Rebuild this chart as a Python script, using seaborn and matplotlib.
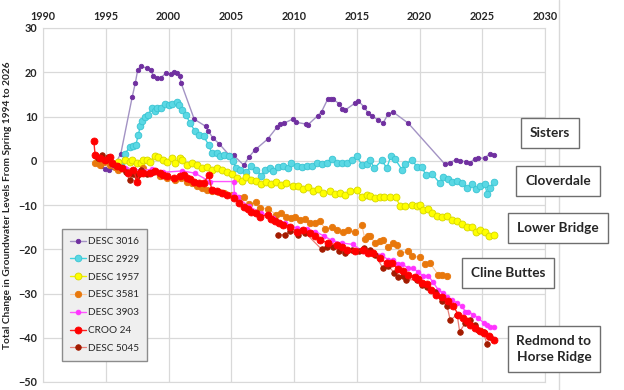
import matplotlib
matplotlib.use("Agg")
import matplotlib.pyplot as plt
import seaborn as sns
import pandas as pd
from matplotlib.lines import Line2D

# groundwater change (ft) since spring 1994 as (year, value)
desc3016 = [(1994.3, -0.3), (1994.6, -1.2), (1994.95, -1.9), (1995.25, -2.1), (1995.6, -1.5),
            (1996.2, 1.6), (1997.1, 14.3), (1997.35, 17.5), (1997.55, 20.6), (1997.8, 21.3),
            (1998.25, 21.0), (1998.6, 20.4), (1998.8, 19.2), (1999.1, 18.6), (1999.4, 18.8),
            (1999.8, 19.8), (2000.2, 19.5), (2000.4, 20.0), (2000.65, 19.9), (2000.9, 19.2),
            (2001.0, 17.6), (2002.05, 9.4), (2002.95, 7.8), (2003.15, 6.8), (2003.55, 5.1),
            (2004.05, 3.8), (2004.8, 1.4), (2005.2, 1.2), (2006.0, -1.0), (2006.4, 0.8),
            (2006.9, 2.5), (2007.0, 2.7), (2007.9, 4.9), (2008.65, 7.6), (2008.9, 8.3),
            (2009.2, 8.5), (2009.9, 9.4), (2010.15, 8.7), (2010.95, 8.3), (2011.1, 8.1),
            (2011.9, 10.2), (2012.2, 11.1), (2012.7, 14.0), (2012.95, 14.0), (2013.1, 13.9),
            (2013.6, 12.9), (2013.85, 11.7), (2014.1, 11.5), (2014.85, 13.0), (2015.1, 13.6),
            (2015.6, 12.1), (2015.9, 10.8), (2016.2, 10.2), (2016.7, 9.2), (2017.1, 8.5),
            (2017.5, 10.6), (2017.9, 11.0), (2019.1, 8.5), (2022.0, -0.7), (2022.4, -0.4),
            (2022.9, 0.2), (2023.2, 0.0), (2023.7, -0.2), (2024.0, -0.5), (2024.4, 0.45),
            (2024.7, 0.6), (2025.2, 0.6), (2025.6, 1.6), (2025.9, 1.35)]

desc2929 = [(1996.2, -1.0), (1996.5, 1.5), (1996.9, 3.0), (1997.2, 3.4), (1997.4, 3.6),
            (1997.6, 5.9), (1997.75, 7.8), (1997.9, 8.9), (1998.1, 9.9), (1998.4, 10.4),
            (1998.65, 11.9), (1998.9, 11.3), (1999.1, 11.9), (1999.4, 11.9), (1999.7, 12.9),
            (2000.05, 12.5), (2000.3, 12.8), (2000.65, 13.2), (2000.85, 12.5), (2001.1, 11.5),
            (2001.4, 10.4), (2001.7, 8.5), (2002.1, 6.8), (2002.45, 5.9), (2002.8, 5.5),
            (2003.2, 3.6), (2003.45, 1.7), (2003.85, 1.7), (2004.1, 1.1), (2004.4, 1.4),
            (2004.8, 1.0), (2005.1, 0.0), (2005.4, -1.7), (2005.7, -2.0), (2006.2, -2.6),
            (2006.6, -1.1), (2007.0, -2.0), (2007.4, -3.5), (2007.7, -2.0), (2008.1, -1.7),
            (2008.35, -2.3), (2008.75, -1.3), (2009.15, -1.1), (2009.55, -1.7), (2009.8, -0.5),
            (2010.2, -1.1), (2010.6, -1.3), (2011.0, -1.1), (2011.4, -1.1), (2011.8, -0.5),
            (2012.2, -0.7), (2012.6, -0.4), (2013.0, 0.45), (2013.4, -0.5), (2013.8, -0.4),
            (2014.2, -0.4), (2014.6, 0.2), (2015.0, 1.0), (2015.4, -0.9), (2015.8, -0.7),
            (2016.05, 0.2), (2016.4, -1.7), (2017.0, 0.1), (2017.4, -1.7), (2017.7, 1.0),
            (2018.05, 0.4), (2018.6, -2.0), (2018.85, -0.7), (2019.4, 0.1), (2019.8, -1.3),
            (2020.2, -1.3), (2020.5, -3.3), (2021.0, -3.0), (2021.6, -5.0), (2021.9, -3.7),
            (2022.3, -4.1), (2022.6, -4.9), (2023.0, -4.5), (2023.4, -5.0), (2023.8, -6.2),
            (2024.2, -5.2), (2024.5, -6.4), (2024.8, -5.8), (2025.2, -5.3), (2025.4, -7.5),
            (2025.6, -6.2), (2025.9, -4.9)]

desc1957 = [(1996.0, -0.3), (1996.5, 0.2), (1996.95, -0.2), (1997.1, 0.1), (1997.5, -0.5),
            (1997.8, -0.4), (1998.0, 0.2), (1998.3, 0.1), (1998.5, -0.2), (1998.9, 1.1),
            (1999.2, 0.8), (1999.6, 0.1), (1999.85, -0.2), (2000.25, 0.6), (2000.5, -0.5),
            (2000.9, 0.6), (2001.05, 0.2), (2001.45, -0.9), (2001.85, -0.4), (2002.25, -0.9),
            (2002.65, -1.7), (2003.05, -1.4), (2003.45, -2.0), (2003.85, -1.7), (2004.25, -2.2),
            (2004.65, -2.6), (2005.05, -3.0), (2005.45, -3.9), (2005.85, -4.5), (2006.2, -3.6),
            (2006.6, -4.3), (2007.0, -4.5), (2007.4, -5.2), (2007.8, -4.9), (2008.2, -5.3),
            (2008.6, -4.7), (2009.0, -5.4), (2009.4, -5.1), (2009.95, -5.7), (2010.35, -5.8),
            (2010.75, -6.4), (2011.15, -6.0), (2011.55, -6.9), (2011.95, -6.4), (2012.35, -7.3),
            (2012.9, -6.9), (2013.3, -7.5), (2013.7, -7.2), (2014.1, -7.7), (2014.5, -6.9),
            (2015.0, -6.6), (2015.4, -8.2), (2015.8, -7.7), (2016.05, -8.0), (2016.45, -8.4),
            (2016.85, -8.1), (2017.2, -8.2), (2017.65, -8.1), (2018.1, -8.2), (2018.45, -10.2),
            (2018.85, -10.3), (2019.4, -9.9), (2019.8, -10.3), (2020.0, -9.9), (2020.3, -11.2),
            (2020.7, -10.9), (2021.0, -11.7), (2021.4, -12.4), (2021.8, -12.7), (2022.2, -12.4),
            (2022.6, -13.3), (2023.0, -13.7), (2023.4, -14.3), (2023.75, -14.9), (2024.15, -14.9),
            (2024.5, -16.0), (2024.8, -15.6), (2025.2, -16.2), (2025.55, -17.0), (2025.9, -16.7)]

desc3581 = [(1994.15, -0.5), (1994.55, -0.9), (1994.9, -0.3), (1995.35, -0.9), (1995.7, -1.5),
            (1996.0, -2.0), (1996.6, -2.2), (1997.2, -2.4), (1997.6, -3.0), (1998.0, -1.7),
            (1998.6, -2.6), (1999.3, -3.5), (1999.9, -3.8), (2000.5, -4.3), (2001.0, -4.0),
            (2001.45, -4.7), (2001.85, -5.1), (2002.25, -5.8), (2002.65, -6.2), (2003.05, -6.5),
            (2003.45, -6.9), (2004.0, -7.0), (2004.4, -7.3), (2005.05, -7.7), (2005.6, -8.4),
            (2006.0, -8.1), (2006.4, -9.8), (2007.0, -9.4), (2007.3, -10.7), (2007.95, -10.9),
            (2008.6, -12.2), (2009.0, -11.8), (2009.4, -12.6), (2009.8, -13.0), (2010.1, -12.6),
            (2010.5, -13.3), (2010.9, -13.2), (2011.3, -14.1), (2011.7, -14.0), (2012.1, -13.7),
            (2012.5, -15.5), (2013.0, -15.0), (2013.4, -15.6), (2013.9, -16.0), (2014.3, -15.6),
            (2014.85, -16.2), (2015.4, -14.5), (2015.65, -17.7), (2015.9, -17.0), (2016.05, -17.1),
            (2016.45, -18.5), (2016.85, -18.2), (2017.1, -18.0), (2017.5, -19.4), (2017.9, -18.6),
            (2018.2, -19.0), (2018.45, -20.9), (2019.1, -20.5), (2019.4, -21.6), (2020.05, -21.8),
            (2020.45, -23.3), (2020.85, -23.2), (2021.5, -25.8), (2021.8, -25.8), (2022.2, -26.0)]

desc3903 = [(1995.6, -0.9), (1996.5, -1.6), (1997.9, -2.2), (1998.7, -1.9), (1999.6, -2.6),
            (2001.1, -2.3), (2002.1, -2.8), (2003.3, -4.7), (2005.2, -4.7), (2005.25, -7.5),
            (2005.5, -8.3), (2006.4, -10.3), (2007.4, -11.8), (2008.35, -13.0), (2009.3, -14.1),
            (2010.2, -15.2), (2011.0, -15.5), (2011.7, -16.0), (2012.4, -17.0), (2013.0, -18.0),
            (2013.8, -18.6), (2014.7, -18.9), (2015.5, -20.5), (2016.2, -20.6), (2017.0, -21.3),
            (2017.5, -22.4), (2017.9, -22.4), (2018.3, -23.3), (2018.6, -23.3), (2019.1, -24.3),
            (2019.5, -24.3), (2019.9, -25.2), (2020.3, -26.0), (2020.7, -26.0), (2021.1, -27.5),
            (2021.5, -29.2), (2021.85, -29.8), (2022.2, -30.7), (2022.6, -31.4), (2023.0, -32.2),
            (2023.4, -32.9), (2023.65, -34.1), (2023.9, -34.1), (2024.3, -34.8), (2024.7, -35.6),
            (2025.1, -36.6), (2025.35, -37.1), (2025.6, -37.6), (2025.9, -37.6)]

croo24 = [(1994.05, 4.4), (1994.15, 1.4), (1994.55, 0.6), (1994.95, 0.2), (1995.3, 0.8),
          (1995.5, -0.5), (1995.9, -1.2), (1996.3, -1.7), (1996.8, -2.8), (1997.2, -2.0),
          (1997.5, -4.7), (1997.7, -2.8), (1998.0, -2.8), (1998.5, -2.8), (1998.9, -2.4),
          (1999.3, -2.8), (1999.6, -3.3), (1999.85, -3.5), (2000.4, -3.9), (2000.9, -3.5),
          (2001.2, -3.2), (2001.45, -3.9), (2001.7, -4.2), (2002.0, -4.7), (2002.4, -5.1),
          (2002.8, -5.1), (2003.2, -3.2), (2003.45, -6.6), (2003.85, -6.9), (2004.25, -7.3),
          (2004.65, -7.7), (2005.2, -8.4), (2005.6, -9.6), (2006.0, -10.5), (2006.3, -10.8),
          (2006.6, -11.5), (2007.0, -11.9), (2007.3, -12.6), (2007.95, -12.2), (2008.2, -13.2),
          (2008.5, -13.7), (2008.8, -14.0), (2009.15, -14.5), (2009.7, -14.9), (2010.2, -16.0),
          (2010.75, -15.6), (2011.3, -16.4), (2011.7, -17.1), (2012.1, -17.9), (2012.7, -18.6),
          (2013.4, -19.0), (2013.8, -19.4), (2014.2, -20.1), (2014.85, -20.5), (2015.5, -20.1),
          (2015.9, -20.9), (2016.3, -20.9), (2016.85, -22.0), (2017.4, -23.2), (2017.8, -23.2),
          (2018.3, -24.5), (2018.7, -25.0), (2019.1, -25.8), (2019.65, -26.2), (2019.9, -26.7),
          (2020.2, -27.7), (2020.6, -27.9), (2020.95, -29.2), (2021.3, -30.3), (2021.8, -30.7),
          (2022.3, -31.8), (2022.7, -32.9), (2023.1, -34.8), (2023.5, -35.6), (2023.75, -36.2),
          (2024.0, -37.1), (2024.4, -37.8), (2024.8, -38.4), (2025.1, -39.0), (2025.5, -39.7),
          (2025.9, -40.5)]

# DESC 5045 has a break in its record
desc5045_early = [(1994.2, 1.0), (1994.4, 0.6), (1994.7, 1.4), (1995.0, 0.2), (1995.2, 0.9),
                  (1995.6, -0.7), (1996.0, -1.2), (1996.3, -1.7), (1996.6, -2.6), (1996.9, -4.3),
                  (1997.2, -3.0), (1997.5, -3.5), (1997.8, -2.0), (1998.3, -3.0), (1998.8, -2.6)]
desc5045_late = [(2008.75, -16.7), (2009.3, -16.7), (2009.7, -15.8), (2010.35, -16.7),
                 (2010.9, -16.3), (2012.2, -20.0), (2012.6, -19.6), (2013.1, -19.4),
                 (2013.6, -20.3), (2014.1, -20.9), (2014.6, -20.2), (2015.2, -20.4),
                 (2015.6, -19.8), (2016.05, -20.1), (2016.45, -21.3), (2017.1, -24.3),
                 (2017.5, -23.8), (2018.0, -25.3), (2018.3, -26.2), (2018.7, -26.0),
                 (2018.95, -26.9), (2019.8, -26.9), (2020.2, -28.1), (2020.6, -28.6),
                 (2021.25, -29.6), (2021.8, -31.8), (2022.2, -32.9), (2022.45, -36.0),
                 (2023.0, -34.8), (2023.2, -38.6), (2023.65, -36.7), (2024.0, -36.0),
                 (2024.4, -37.1), (2024.7, -38.2), (2025.1, -38.6), (2025.35, -41.3),
                 (2025.6, -39.9)]

x_ticks = [1990, 1995, 2000, 2005, 2010, 2015, 2020, 2025, 2030]
y_ticks = [30, 20, 10, 0, -10, -20, -30, -40, -50]
area_labels = ["Sisters", "Cloverdale", "Lower Bridge", "Cline Buttes", "Redmond to\nHorse Ridge"]

sns.set_style("white")
plt.rcParams['font.family'] = ['Lato', 'DejaVu Sans']

fig = plt.figure(figsize=(6.24, 3.9), dpi=100)
ax = fig.add_axes([43/624, 1-382/390, (545-43)/624, (382-28)/390])

# (name, segments, line colour, marker colour, marker edge, marker size, line width, z)
series = [
    ("DESC 3016", [desc3016], "#a393c4", "#7030a0", "#7030a0", 3.2, 1.0, 3),
    ("DESC 2929", [desc2929], "#3fd3df", "#5ad8e4", "#38c4d2", 4.8, 1.0, 3),
    ("DESC 1957", [desc1957], "#f0f000", "#ffff00", "#d6d600", 5.0, 1.0, 3),
    ("DESC 3581", [desc3581], "#f7c79f", "#e8780c", "#e8780c", 4.6, 0.8, 3),
    ("DESC 3903", [desc3903], "#ff55ff", "#ff33ff", "#ff33ff", 3.4, 1.0, 4),
    ("CROO 24", [croo24], "#ff2020", "#ff0000", "#ff0000", 5.0, 1.0, 5),
    ("DESC 5045", [desc5045_early, desc5045_late], "#e8807a", "#a31b00", "#a31b00", 4.0, 0.9, 4.5),
]

for name, segs, lc, mc, me, ms, lw, z in series:
    for i, seg in enumerate(segs):
        df = pd.DataFrame(seg, columns=["year", "change"])
        sns.lineplot(data=df, x="year", y="change", ax=ax, estimator=None,
                     color=lc, lw=lw, marker="o", markersize=ms, zorder=z,
                     markerfacecolor=mc, markeredgecolor=me, markeredgewidth=0.6,
                     label=name if i == 0 else "_nolegend_")

ax.set_xlim(1990, 2030)
ax.set_ylim(-50, 30)
ax.set_xticks(x_ticks)
ax.set_yticks(y_ticks)
ax.xaxis.tick_top()
ax.tick_params(length=0, labelsize=7.8, pad=4)
for lab in ax.get_xticklabels() + ax.get_yticklabels():
    lab.set_fontweight("bold")
ax.set_xlabel("")
ax.set_ylabel("Total Change in Groundwater Levels From Spring 1994 to 2026",
              fontsize=7.3, fontweight="bold", labelpad=5)
ax.grid(True, color="#d9d9d9", lw=0.9)
for sp in ax.spines.values():
    sp.set_color("#d9d9d9")

handles, labels = ax.get_legend_handles_labels()
leg = ax.legend(handles, labels, loc="upper left", bbox_to_anchor=(62/624, 1-229/390),
                bbox_transform=fig.transFigure, fancybox=False, facecolor="#efefef",
                edgecolor="#8c8c8c", framealpha=1, fontsize=7.2, labelspacing=0.88,
                handlelength=1.6, handletextpad=0.15, borderpad=0.8, borderaxespad=0)
leg.get_frame().set_linewidth(1.0)
leg.set_zorder(10)

# outer chart border on the right
fig.add_artist(Line2D([559/624, 559/624], [0, 1], color="#d9d9d9", lw=1))

label_pos = [(550, 133), (558, 181), (558, 228), (508, 273), (554, 349)]
for txt, (px, py) in zip(area_labels, label_pos):
    fig.text(px/624, 1-py/390, txt, ha="center", va="center", fontsize=9.8,
             fontweight="bold", linespacing=1.45,
             bbox=dict(boxstyle="square,pad=0.65", facecolor="white",
                       edgecolor="#6e6e6e", lw=1.0))

fig.savefig("out.png", dpi=100)
